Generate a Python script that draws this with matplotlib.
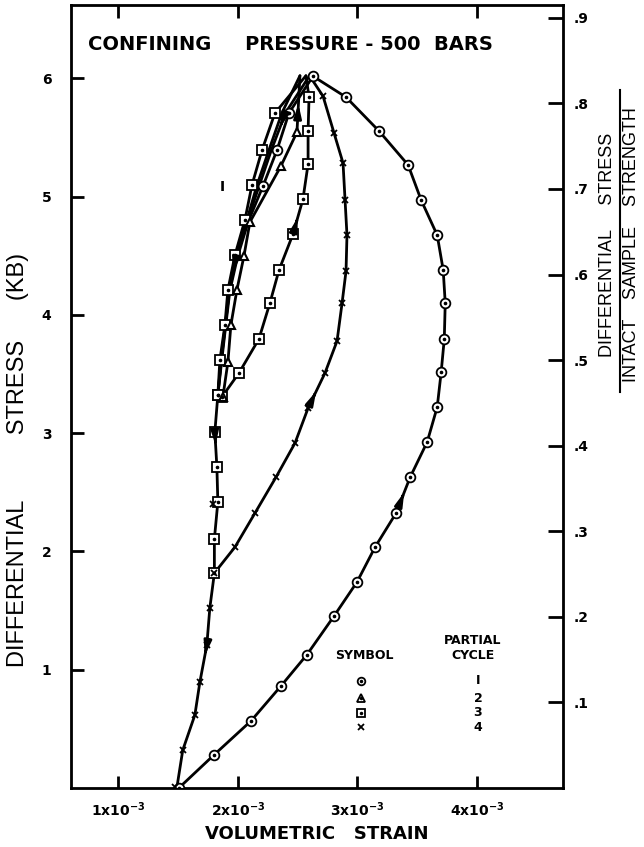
import matplotlib.pyplot as plt
from matplotlib.lines import Line2D

plt.rcParams['font.family'] = ['DejaVu Sans']
plt.rcParams['mathtext.default'] = 'bf'

# volumetric strain in units of 1e-3, differential stress in kb
# partial cycle 1 (circles): loading, then unloading down the left bundle
c1_load_x = [1.508, 1.801, 2.111, 2.361, 2.579, 2.805, 2.997, 3.148, 3.323, 3.441, 3.583,
             3.667, 3.700, 3.726, 3.734, 3.717, 3.667, 3.533, 3.424, 3.181, 2.905, 2.629]
c1_load_y = [0.000, 0.279, 0.567, 0.862, 1.128, 1.454, 1.742, 2.037, 2.324, 2.628, 2.925,
             3.221, 3.516, 3.796, 4.100, 4.379, 4.674, 4.970, 5.267, 5.554, 5.841, 6.018]
c1_unl_x = [2.629, 2.428, 2.328, 2.211, 2.090, 2.000, 1.935, 1.900, 1.865, 1.834]
c1_unl_y = [6.018, 5.706, 5.393, 5.089, 4.795, 4.496, 4.208, 3.910, 3.602, 3.322]

# partial cycle 2 (triangles)
c2_load_x = [1.834, 1.876, 1.918, 1.943, 1.993, 2.052, 2.102, 2.361, 2.495, 2.520]
c2_load_y = [3.322, 3.306, 3.601, 3.914, 4.210, 4.497, 4.785, 5.258, 5.545, 6.022]
c2_unl_x = [2.520, 2.370, 2.260, 2.160, 2.075, 1.990, 1.930, 1.895, 1.860, 1.834]
c2_unl_y = [6.022, 5.709, 5.391, 5.093, 4.795, 4.506, 4.208, 3.910, 3.612, 3.322]

# partial cycle 3 (squares)
c3_load_x = [1.834, 1.868, 2.010, 2.177, 2.269, 2.345, 2.462, 2.545, 2.588, 2.588, 2.596, 2.570]
c3_load_y = [3.322, 3.306, 3.508, 3.796, 4.100, 4.379, 4.683, 4.978, 5.275, 5.554, 5.841, 6.022]
c3_unl_x = [2.570, 2.311, 2.203, 2.119, 2.060, 1.977, 1.918, 1.893, 1.851, 1.834]
c3_unl_y = [6.022, 5.706, 5.393, 5.097, 4.802, 4.505, 4.210, 3.914, 3.618, 3.322]

# partial cycle 4 (crosses): loads up the common tail, bends at ~1.8 kb
c4_load_x = [1.805, 1.977, 2.144, 2.320, 2.479, 2.588, 2.729, 2.830, 2.872, 2.905, 2.913,
             2.897, 2.880, 2.805, 2.713, 2.600]
c4_load_y = [1.817, 2.037, 2.324, 2.628, 2.917, 3.212, 3.508, 3.779, 4.100, 4.370, 4.674,
             4.970, 5.284, 5.537, 5.849, 6.022]
c4_unl_x = [2.600, 2.400, 2.280, 2.180, 2.080, 1.995, 1.930, 1.897, 1.862, 1.834]
c4_unl_y = [6.022, 5.709, 5.391, 5.093, 4.795, 4.506, 4.208, 3.910, 3.612, 3.322]

# common unloading tail down to zero load
tail_x = [1.834, 1.809, 1.826, 1.834, 1.805, 1.805, 1.767, 1.742, 1.684, 1.642, 1.541, 1.491]
tail_y = [3.322, 3.009, 2.714, 2.418, 2.105, 1.817, 1.522, 1.209, 0.896, 0.617, 0.321, 0.000]

# marker positions
sq_tail_x = [1.834, 1.809, 1.826, 1.834, 1.805, 1.805]
sq_tail_y = [3.322, 3.009, 2.714, 2.418, 2.105, 1.817]
x_tail_x = [1.792, 1.767, 1.740, 1.684, 1.642, 1.541, 1.474]
x_tail_y = [2.401, 1.522, 1.209, 0.896, 0.617, 0.321, 0.008]

x_ticks = [1, 2, 3, 4]
x_ticklabels = [r'1x10$^{-3}$', r'2x10$^{-3}$', r'3x10$^{-3}$', r'4x10$^{-3}$']
y_ticks = [1, 2, 3, 4, 5, 6]
r_ticks = [0.1, 0.2, 0.3, 0.4, 0.5, 0.6, 0.7, 0.8, 0.9]
r_ticklabels = ['.1', '.2', '.3', '.4', '.5', '.6', '.7', '.8', '.9']
legend_markers = ['o', '^', 's', 'x']
legend_cycles = ['I', '2', '3', '4']

fig = plt.figure(figsize=(6.44, 8.47), dpi=100)
ax = fig.add_axes([71 / 644, 59 / 847, 492 / 644, 783 / 847])

LW = 2.0
line_kw = dict(color='black', lw=LW, solid_capstyle='round', solid_joinstyle='round', zorder=2)

for xs, ys in [(c1_load_x, c1_load_y), (c1_unl_x, c1_unl_y), (c2_load_x, c2_load_y),
               (c2_unl_x, c2_unl_y), (c3_load_x, c3_load_y), (c3_unl_x, c3_unl_y),
               (c4_load_x, c4_load_y), (c4_unl_x, c4_unl_y), (tail_x, tail_y)]:
    ax.plot(xs, ys, **line_kw)


def dotted_marker(xs, ys, m, ms):
    ax.plot(xs, ys, ls='none', marker=m, ms=ms, mfc='white', mec='black', mew=1.3, zorder=4)
    ax.plot(xs, ys, ls='none', marker='o', ms=1.6, mfc='black', mec='black', zorder=5)


def arrow_on(xs, ys, i, frac):
    x0, y0, x1, y1 = xs[i], ys[i], xs[i + 1], ys[i + 1]
    hx, hy = x0 + frac * (x1 - x0), y0 + frac * (y1 - y0)
    tx, ty = x0 + (frac - 0.25) * (x1 - x0), y0 + (frac - 0.25) * (y1 - y0)
    ax.annotate('', xy=(hx, hy), xytext=(tx, ty),
                arrowprops=dict(arrowstyle='-|>,head_length=0.8,head_width=0.22',
                                color='black', lw=LW), zorder=6)


# circles
dotted_marker(c1_load_x, c1_load_y, 'o', 7)
dotted_marker(c1_unl_x[1:4], c1_unl_y[1:4], 'o', 7)
# squares
dotted_marker(c3_load_x[1:-1], c3_load_y[1:-1], 's', 6.5)
dotted_marker(c3_unl_x[1:], c3_unl_y[1:], 's', 6.5)
dotted_marker(sq_tail_x, sq_tail_y, 's', 6.5)
# triangles
ax.plot(c2_load_x[1:-1], c2_load_y[1:-1], ls='none', marker='^', ms=5.5, mfc='white',
        mec='black', mew=1.5, zorder=4)
# crosses
ax.plot(c4_load_x[:-1], c4_load_y[:-1], ls='none', marker='x', ms=5, mec='black', mew=1.3, zorder=4)
ax.plot(x_tail_x, x_tail_y, ls='none', marker='x', ms=5, mec='black', mew=1.3, zorder=4)

# direction arrows
arrow_on(c1_load_x, c1_load_y, 8, 0.65)
arrow_on(c4_load_x, c4_load_y, 5, 0.55)
arrow_on(c3_load_x, c3_load_y, 6, 0.55)
arrow_on(c2_load_x, c2_load_y, 8, 0.55)
arrow_on(tail_x, tail_y, 1, 0.45)
arrow_on(tail_x, tail_y, 7, 0.35)
arrow_on(c2_unl_x, c2_unl_y, 5, 0.55)
arrow_on(c4_unl_x, c4_unl_y, 1, 0.45)

ax.set_xlim(0.607, 4.718)
ax.set_ylim(0.0, 6.62)
ax.set_xticks(x_ticks)
ax.set_xticklabels(x_ticklabels)
ax.set_yticks(y_ticks)
ax.set_yticklabels([str(v) for v in y_ticks])
ax.tick_params(axis='both', direction='in', length=9, width=2, labelsize=10)
ax.tick_params(axis='x', top=True, pad=9)
ax.tick_params(axis='y', pad=14)
for lab in ax.get_xticklabels() + ax.get_yticklabels():
    lab.set_fontweight('bold')
for s in ax.spines.values():
    s.set_linewidth(2)

ax2 = ax.twinx()
ax2.set_ylim(0.0, 0.915)
ax2.set_yticks(r_ticks)
ax2.set_yticklabels(r_ticklabels)
ax2.tick_params(axis='y', direction='in', length=11, width=2, labelsize=10, pad=8)
for lab in ax2.get_yticklabels():
    lab.set_fontweight('bold')

ax.text(0.035, 0.949, 'CONFINING     PRESSURE - 500  BARS', transform=ax.transAxes,
        fontsize=14, fontweight='bold', ha='left', va='center')
ax.text(1.874, 5.083, 'I', fontsize=10, fontweight='bold', ha='center', va='center')

# symbol table
ax.text(0.5955, 0.1686, 'SYMBOL', transform=ax.transAxes, fontsize=9, fontweight='bold',
        ha='center', va='center')
ax.text(0.817, 0.189, 'PARTIAL', transform=ax.transAxes, fontsize=9, fontweight='bold',
        ha='center', va='center')
ax.text(0.817, 0.1686, 'CYCLE', transform=ax.transAxes, fontsize=9, fontweight='bold',
        ha='center', va='center')
row_y = [0.1367, 0.1149, 0.0958, 0.0779]
for m, c, yy in zip(legend_markers, legend_cycles, row_y):
    if m == 'x':
        ax.plot([0.589], [yy], transform=ax.transAxes, ls='none', marker='x', ms=5,
                mec='black', mew=1.3)
    else:
        ax.plot([0.589], [yy], transform=ax.transAxes, ls='none', marker=m, ms=5.5,
                mfc='white', mec='black', mew=1.3)
        ax.plot([0.589], [yy], transform=ax.transAxes, ls='none', marker='o', ms=1.5,
                mfc='black', mec='black')
    ax.text(0.827, yy, c, transform=ax.transAxes, fontsize=9, fontweight='bold',
            ha='center', va='center')

narrow = ['Liberation Sans', 'DejaVu Sans']
ax.set_xlabel('VOLUMETRIC   STRAIN', fontsize=13, fontweight='bold', labelpad=4)
fig.text(0.028, 0.457, 'DIFFERENTIAL          STRESS      (KB)', rotation=90, fontsize=17,
         family=narrow, ha='center', va='center')
fig.text(0.944, 0.711, 'DIFFERENTIAL     STRESS', rotation=90, fontsize=13,
         family=narrow, ha='center', va='center')
fig.text(0.980, 0.711, 'INTACT    SAMPLE    STRENGTH', rotation=90, fontsize=13,
         family=narrow, ha='center', va='center')
fig.add_artist(Line2D([0.963, 0.963], [0.537, 0.894], color='black', lw=1.5))

fig.savefig('out.png', dpi=100)
